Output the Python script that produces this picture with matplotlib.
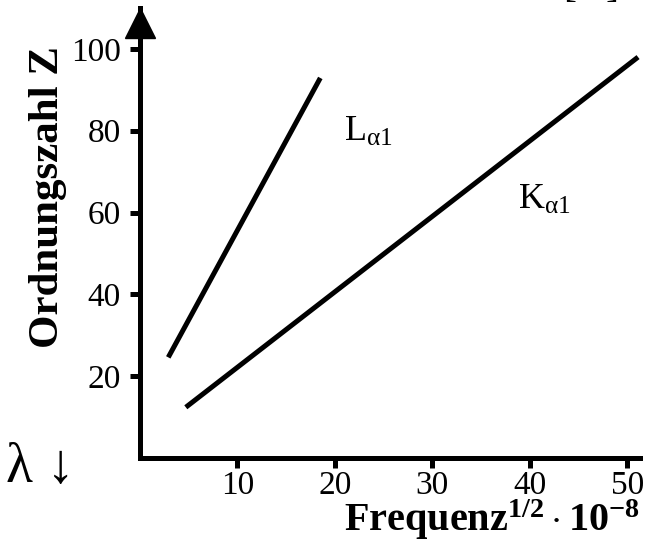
import numpy as np
import matplotlib
matplotlib.use('Agg')
import matplotlib.pyplot as plt

plt.rcParams['font.family'] = ['Liberation Serif', 'DejaVu Serif']
plt.rcParams['mathtext.fontset'] = 'custom'
plt.rcParams['mathtext.rm'] = 'Liberation Serif'
plt.rcParams['mathtext.it'] = 'Liberation Serif'
plt.rcParams['mathtext.bf'] = 'Liberation Serif:bold'

# line end points (x: Frequenz^1/2 * 1e-8, y: Z)
l_x = [2.9, 18.5]
l_z = [24.6, 92.9]
k_x = [4.7, 51.1]
k_z = [12.4, 98.0]

xticks = [10, 20, 30, 40, 50]
yticks = [20, 40, 60, 80, 100]

fig = plt.figure(figsize=(6.57, 5.44), dpi=100)
ax = fig.add_axes([140/657, 86/544, 500/657, 450/544])

ax.plot(l_x, l_z, color='black', lw=3.6, solid_capstyle='butt')
ax.plot(k_x, k_z, color='black', lw=3.6, solid_capstyle='butt')

ax.set_xlim(0, 51.3)
ax.set_ylim(0, 110)
for s in ['top', 'right']:
    ax.spines[s].set_visible(False)
for s in ['left', 'bottom']:
    ax.spines[s].set_linewidth(3.6)
ax.set_xticks(xticks)
ax.set_yticks(yticks)
ax.tick_params(width=3.6, length=7, labelsize=24)
ax.tick_params(axis='y', pad=7)
ax.tick_params(axis='x', pad=2)

# arrow head on the y axis
ax.plot([0], [106.3], marker='^', markersize=21, color='black', clip_on=False)

fig.text(48/657, 1 - 197/544, 'Ordnungszahl Z', fontsize=31, fontweight='bold',
         rotation=90, ha='center', va='center')

ax.text(23.4, 79.5, r'L$_{\alpha 1}$', fontsize=26, ha='center', va='center')
ax.text(41.5, 63, r'K$_{\alpha 1}$', fontsize=26, ha='center', va='center')

fig.text(640/657, 13/544, r'$\mathbf{Frequenz^{1/2}\cdot 10^{-8}}$', fontsize=29,
         ha='right', va='baseline')
fig.text(6/657, 1 - 468/544, 'λ ↓', fontsize=40, ha='left', va='center')
fig.text(592/657, 1.006, '[   ]', fontsize=28, ha='center', va='baseline')

fig.savefig('out.png', dpi=100)
